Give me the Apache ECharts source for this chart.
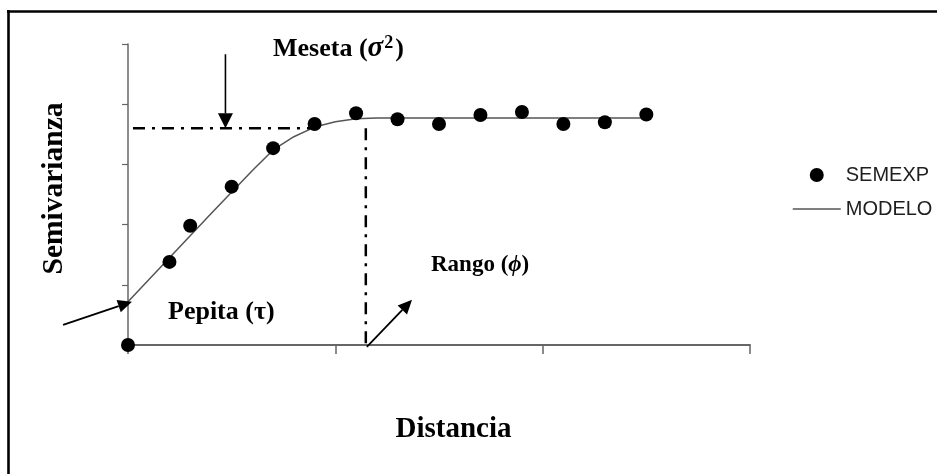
<!DOCTYPE html>
<html><head><meta charset="utf-8">
<script src="https://cdn.jsdelivr.net/npm/echarts@6/dist/echarts.min.js"></script>
<style>html,body{margin:0;padding:0;background:#fff}#c{width:937px;height:474px}</style>
</head><body><div id="c"></div>
<script>
// ---- data ----
const distanciaSemexp = [0, 0.2, 0.3, 0.5, 0.7, 0.9, 1.1, 1.3, 1.5, 1.7, 1.9, 2.1, 2.3, 2.5];
const semivarianzaSemexp = [0, 1.38, 1.98, 2.63, 3.27, 3.67, 3.85, 3.75, 3.67, 3.82, 3.87, 3.67, 3.70, 3.83];
const distanciaModelo = [0, 0.2, 0.4, 0.6, 0.7, 0.8, 0.9, 1.0, 1.1, 1.2, 2.5];
const semivarianzaModelo = [0.72, 1.45, 2.18, 2.90, 3.24, 3.46, 3.62, 3.71, 3.76, 3.77, 3.77];
const xTicks = [0, 1, 2, 3];
const yTicks = [0, 1, 2, 3, 4, 5];
const seriesNames = ['SEMEXP', 'MODELO'];
// annotation values (data units)
const mesetaGuia = 3.6;     // dash-dot sill guide
const rangoX = 1.147;       // dash-dot range guide
const pepitaY = 0.72;

const chart = echarts.init(document.getElementById('c'), null, {renderer: 'canvas'});
const axisColor = '#666';
const option = {
  animation: false,
  backgroundColor: '#fff',
  grid: {left: 128, right: 187, top: 44, bottom: 129},
  xAxis: {
    type: 'value', min: xTicks[0], max: xTicks[xTicks.length - 1], interval: 1,
    axisLine: {show: true, onZero: false, lineStyle: {color: axisColor, width: 2}},
    axisTick: {show: true, length: 9, lineStyle: {color: axisColor, width: 1.5}},
    axisLabel: {show: false}, splitLine: {show: false}
  },
  yAxis: {
    type: 'value', min: yTicks[0], max: yTicks[yTicks.length - 1], interval: 1,
    axisLine: {show: true, onZero: false, lineStyle: {color: axisColor, width: 1.5}},
    axisTick: {show: true, length: 6, lineStyle: {color: axisColor, width: 1.2}},
    axisLabel: {show: false}, splitLine: {show: false}
  },
  legend: {
    orient: 'vertical', left: 787, top: 160, itemWidth: 48, itemHeight: 14, itemGap: 14,
    textStyle: {fontFamily: 'Liberation Sans', fontSize: 20, color: '#1e1e1e'},
    data: [
      {name: seriesNames[0], icon: 'circle', itemStyle: {color: '#000', opacity: 1}},
      {name: seriesNames[1], itemStyle: {opacity: 0, borderWidth: 0}, lineStyle: {color: '#555', width: 1.5}}
    ]
  },
  series: [
    {
      name: seriesNames[0], type: 'scatter', symbol: 'circle', symbolSize: 14, clip: false, z: 5,
      itemStyle: {color: '#000', opacity: 1},
      data: distanciaSemexp.map((d, i) => [d, semivarianzaSemexp[i]])
    },
    {
      name: seriesNames[1], type: 'line', symbol: 'none', showSymbol: false, clip: false, z: 3,
      lineStyle: {color: '#555', width: 1.5}, itemStyle: {color: '#555'},
      data: distanciaModelo.map((d, i) => [d, semivarianzaModelo[i]])
    }
  ]
};
chart.setOption(option);

function px(x, y) { return chart.convertToPixel({seriesIndex: 0}, [x, y]); }
function arrow(from, to, headLen, headHalf, w) {
  const a = px(from[0], from[1]), b = px(to[0], to[1]);
  const dx = b[0] - a[0], dy = b[1] - a[1], L = Math.hypot(dx, dy);
  const ux = dx / L, uy = dy / L;
  const bx = b[0] - ux * headLen, by = b[1] - uy * headLen;
  return [
    {type: 'line', z: 20, shape: {x1: a[0], y1: a[1], x2: bx, y2: by}, style: {stroke: '#000', lineWidth: w}},
    {type: 'polygon', z: 20, shape: {points: [[b[0], b[1]], [bx - uy * headHalf, by + ux * headHalf], [bx + uy * headHalf, by - ux * headHalf]]}, style: {fill: '#000'}}
  ];
}
const dashDot = [12, 7, 3, 7];
const g0 = px(0.024, mesetaGuia), g1 = px(0.88, mesetaGuia);
const r0 = px(rangoX, mesetaGuia), r1 = px(rangoX, 0);
const serif = 'Liberation Serif';
const graphics = [
  // frame (only top and left edges visible)
  {type: 'line', z: 30, shape: {x1: 7, y1: 11.5, x2: 937, y2: 11.5}, style: {stroke: '#000', lineWidth: 2.6}},
  {type: 'line', z: 30, shape: {x1: 8.5, y1: 10, x2: 8.5, y2: 474}, style: {stroke: '#000', lineWidth: 2.6}},
  // guides
  {type: 'line', z: 10, shape: {x1: g0[0], y1: g0[1], x2: g1[0], y2: g1[1]}, style: {stroke: '#000', lineWidth: 2.5, lineDash: dashDot}},
  {type: 'line', z: 10, shape: {x1: r0[0], y1: r0[1], x2: r1[0], y2: r1[1]}, style: {stroke: '#000', lineWidth: 2.5, lineDash: dashDot}},
  ...arrow([0.47, 4.83], [0.47, mesetaGuia], 15, 7.5, 1.6),
  ...arrow([-0.313, 0.333], [0.019, pepitaY], 14, 6.5, 1.8),
  ...arrow([1.152, -0.03], [1.37, 0.75], 14, 6.5, 1.8),
  // texts
  {type: 'text', z: 25, x: 273, y: 49, style: {
    text: '{n|Meseta (}{s|σ}{p|2}{n|)}', textAlign: 'left', textVerticalAlign: 'middle',
    rich: {
      n: {fontFamily: serif, fontWeight: 'bold', fontSize: 26, fill: '#000'},
      s: {fontFamily: serif, fontWeight: 'bold', fontStyle: 'italic', fontSize: 29, fill: '#000'},
      p: {fontFamily: serif, fontWeight: 'bold', fontSize: 18, fill: '#000', verticalAlign: 'top', padding: [0, 2, 8, 1]}
    }
  }},
  {type: 'text', z: 25, x: 168, y: 312.5, style: {text: 'Pepita (τ)', fontFamily: serif, fontWeight: 'bold', fontSize: 26, fill: '#000', textAlign: 'left', textVerticalAlign: 'middle'}},
  {type: 'text', z: 25, x: 431, y: 265.5, style: {
    text: '{n|Rango (}{s|ϕ}{n|)}', textAlign: 'left', textVerticalAlign: 'middle',
    rich: {
      n: {fontFamily: serif, fontWeight: 'bold', fontSize: 23, fill: '#000'},
      s: {fontFamily: serif, fontWeight: 'bold', fontStyle: 'italic', fontSize: 23, fill: '#000'}
    }
  }},
  {type: 'text', z: 25, x: 453.5, y: 430, style: {text: 'Distancia', fontFamily: serif, fontWeight: 'bold', fontSize: 29, fill: '#000', textAlign: 'center', textVerticalAlign: 'middle'}},
  {type: 'text', z: 25, x: 54, y: 188.5, rotation: Math.PI / 2, style: {text: 'Semivarianza', fontFamily: serif, fontWeight: 'bold', fontSize: 29.5, fill: '#000', textAlign: 'center', textVerticalAlign: 'middle'}}
];
chart.setOption({graphic: {elements: graphics}});
</script>
</body></html>
